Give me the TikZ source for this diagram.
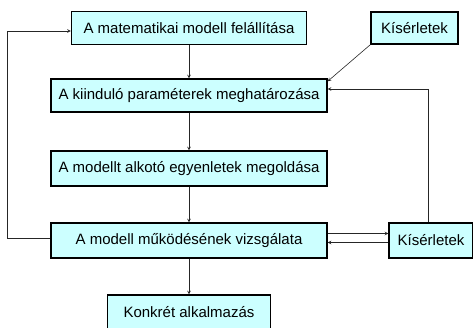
\documentclass[tikz,border=0pt]{standalone}
\usepackage{fontspec}
\setmainfont{Liberation Sans}
\usepackage{tikz}
\usetikzlibrary{arrows, positioning}
\definecolor{boxcyan}{HTML}{CCFFFF}
\tikzstyle{stage} = [rectangle, minimum width=276pt, minimum height=33pt, align=center, draw=black, line width=1.4pt, fill=boxcyan, font=\fontsize{15}{18}\selectfont, inner sep=0pt]
\tikzstyle{arrow} = [line width=0.6pt, draw=black!85, ->, >=stealth]

\begin{document}
\begin{tikzpicture}[x=1pt, y=1pt]
            \useasboundingbox (0,0) rectangle (473,-327);
            % Nodes
            \node (model) [stage, minimum width=235pt] at (189,-28) {A matematikai modell felállítása};
            \node (params) [stage, below of=model, node distance=67.5pt] {A kiinduló paraméterek meghatározása};
            \node (solve) [stage, below of=params, node distance=73pt, minimum height=35pt] {A modellt alkotó egyenletek megoldása};
            \node (study) [stage, below of=solve, node distance=72pt, minimum height=35pt] {A modell működésének vizsgálata};
            \node (apply) [stage, below of=study, node distance=72pt, minimum width=163pt, minimum height=35pt] {Konkrét alkalmazás};

            \node (expA) [stage, right of=model, node distance=225.5pt, minimum width=87pt, minimum height=32pt] {Kísérletek};
            \node (expB) [stage, right of=study, node distance=242pt, minimum width=84pt, minimum height=35pt] {Kísérletek};

            % Edges
            \draw [arrow] (model) -- (params);
            \draw [arrow] (params) -- (solve);
            \draw [arrow] (solve) -- (study);
            \draw [arrow] (study) -- (apply);

            \draw [arrow] (expA.south west) -- ([yshift=-3pt]params.north east);

            \draw [arrow] ([yshift=7pt]study.east) -- ([yshift=7pt]study.east -| expB.west);
            \draw [arrow] ([yshift=-2pt]expB.west) -- ([yshift=-2pt]study.east);

            % Feedback loops
            \draw [arrow] ([yshift=2pt]study.west) -- ++(-43pt,0) |- ([yshift=-3pt]model.west);
            \draw [arrow] ([xshift=-3pt]expB.north) |- ([yshift=6.5pt]params.east);

        \end{tikzpicture}
\end{document}
